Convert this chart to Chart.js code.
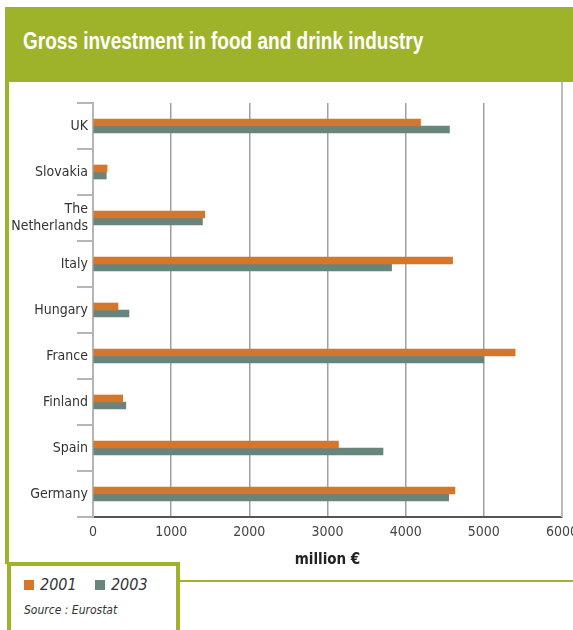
<!DOCTYPE html>
<html>
<head>
<meta charset="utf-8">
<script src="https://cdn.jsdelivr.net/npm/chart.js@4/dist/chart.umd.min.js"></script>
<style>
  body { margin: 0; background: #fff; }
  #page { position: relative; width: 573px; height: 630px; overflow: hidden; font-family: "DejaVu Sans Condensed", "Liberation Sans", sans-serif; }
  #band { position: absolute; left: 5px; top: 7px; width: 568px; height: 75px; background: #9fb32a; }
  #title { position: absolute; left: 23px; top: 28px; color: #fff; font-family: "Liberation Sans", sans-serif; font-weight: bold; font-size: 23px; white-space: nowrap; transform-origin: 0 0; }
  #leftLine { position: absolute; left: 5px; top: 82px; width: 4px; height: 482px; background: #9fb32a; }
  #legendLine { position: absolute; left: 180px; top: 580px; width: 393px; height: 2px; background: #9fb32a; }
  #legend { position: absolute; left: 7px; top: 562px; width: 165px; height: 70px; border: 4px solid #9fb32a; background: #fff; }
  #legend .row { position: absolute; left: 13px; top: 9px; font-size: 16px; font-style: italic; color: #333; white-space: nowrap; }
  #legend .sw { display: inline-block; width: 10px; height: 10px; margin-right: 6px; vertical-align: 0px; }
  #legend .src { position: absolute; left: 13px; top: 37px; font-size: 12px; font-style: italic; color: #333; }
  #chartBox { position: absolute; left: 0; top: 82px; }
</style>
</head>
<body>
<div id="page">
  <div id="band"></div>
  <div id="title">Gross investment in food and drink industry</div>
  <div id="leftLine"></div>
  <div id="legendLine"></div>
  <div id="chartBox"><canvas id="myChart" width="573" height="490"></canvas></div>
  <div id="legend">
    <div class="row"><span class="sw" style="background:#d4762b"></span>2001&nbsp;&nbsp;&nbsp;&nbsp;<span class="sw" style="background:#67857c"></span>2003</div>
    <div class="src">Source : Eurostat</div>
  </div>
</div>
<script>
const countries = ['UK', 'Slovakia', ['The', 'Netherlands'], 'Italy', 'Hungary', 'France', 'Finland', 'Spain', 'Germany']
const years = ['2001', '2003']
const invest2001 = [4190, 180, 1430, 4600, 320, 5400, 380, 3140, 4630]
const invest2003 = [4560, 170, 1400, 3820, 460, 5000, 420, 3710, 4550]
const xTicks = [0, 1000, 2000, 3000, 4000, 5000, 6000]

// squeeze the bold title into its narrow width
const title = document.getElementById('title')
title.style.transform = 'scaleX(' + (400 / title.offsetWidth) + ')'

const labelFont = { family: '"DejaVu Sans Condensed", "Liberation Sans", sans-serif', size: 14 }

// the 6000 line runs all the way up to the title band
const frameLine = {
  id: 'frameLine',
  afterDraw(chart) {
    const x = chart.scales.x.getPixelForValue(6000)
    const ctx = chart.ctx
    ctx.save()
    ctx.strokeStyle = '#bbbbbb'
    ctx.lineWidth = 2
    ctx.beginPath()
    ctx.moveTo(x, 0)
    ctx.lineTo(x, chart.chartArea.bottom)
    ctx.stroke()
    ctx.restore()
  }
}

const ctx = document.getElementById('myChart')

new Chart(ctx, {
  type: 'bar',
  data: {
    labels: countries,
    datasets: [{
      label: years[0],
      data: invest2001,
      backgroundColor: '#d4762b',
      barThickness: 7
    }, {
      label: years[1],
      data: invest2003,
      backgroundColor: '#67857c',
      barThickness: 7
    }]
  },
  options: {
    indexAxis: 'y',
    responsive: false,
    animation: false,
    layout: { padding: { top: 21, right: 11, left: 0, bottom: 0 } },
    plugins: {
      legend: { display: false },
      tooltip: { enabled: false }
    },
    scales: {
      x: {
        min: 0,
        max: 6000,
        afterBuildTicks: s => { s.ticks = xTicks.map(v => ({ value: v })) },
        afterFit: s => { s.height = 55; s.paddingLeft = 0; s.paddingRight = 0 },
        grid: { color: '#a0a0a0', lineWidth: 1.5, drawTicks: false },
        border: { color: '#555555', width: 2 },
        ticks: { color: '#444', font: labelFont, padding: 7, callback: v => String(v) },
        title: {
          display: true,
          text: 'million €',
          color: '#222',
          font: { family: labelFont.family, size: 15, weight: 'bold' },
          padding: { top: 0, bottom: 3 }
        }
      },
      y: {
        afterFit: s => { s.width = 93; s.paddingTop = 0; s.paddingBottom = 0 },
        grid: { offset: true, drawOnChartArea: false, tickLength: 16, color: '#b5b5b5', lineWidth: 2 },
        border: { color: '#b5b5b5', width: 2 },
        ticks: { color: '#333', font: labelFont, padding: -11 }
      }
    }
  },
  plugins: [frameLine]
})
</script>
</body>
</html>
